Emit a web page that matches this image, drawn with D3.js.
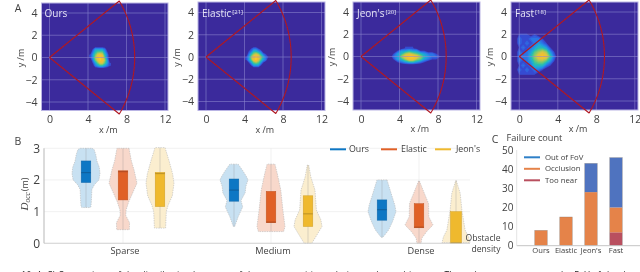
<!DOCTYPE html>
<html><head><meta charset="utf-8">
<script src="https://cdn.jsdelivr.net/npm/d3@7/dist/d3.min.js"></script>
<style>
html,body{margin:0;padding:0;background:#fff;overflow:hidden}
text{font-family:"Open Sans","Noto Sans",sans-serif;fill:#404040}
</style></head><body><svg id="c" width="640" height="272"></svg>
<script>
// ---------- data ----------
const heatNames = ["Ours","Elastic","Jeon's","Fast"];
const heatRefs = ["", "[21]", "[20]", "[18]"];
const heatOurs = [[0,0,0,0,0,0,0,0,0],[0,1,3,3,3,3,2,0,0],[0,2,4,5,5,5,3,1,0],[1,3,5,7,8,7,4,2,0],[1,3,6,8,9,8,5,2,0],[0,2,5,7,9,8,6,3,0],[0,1,3,5,7,7,5,3,1],[0,0,2,3,4,4,3,2,1],[0,0,0,0,0,0,0,0,0]];
const heatElastic = [[0,0,0,0,0,0,0,0,0,0],[0,0,1,2,2,1,0,0,0,0],[0,1,2,4,4,3,2,0,0,0],[0,2,4,6,7,6,4,2,1,0],[1,3,6,8,9,8,6,4,2,1],[1,3,5,8,9,7,5,3,2,0],[0,1,3,5,6,5,3,1,0,0],[0,0,1,3,3,3,1,0,0,0],[0,0,0,0,0,0,0,0,0,0]];
const heatJeon = [[0,0,0,0,1,1,1,0,0,0,0,0,0,0],[0,0,1,3,3,4,3,3,1,1,0,0,0,0],[0,1,3,4,6,7,6,5,4,3,2,2,1,0],[0,2,3,6,8,9,9,8,6,4,3,2,2,1],[0,1,3,4,6,8,8,6,5,3,2,1,1,0],[0,0,1,2,3,4,4,3,2,1,0,0,0,0],[0,0,0,0,0,0,0,0,0,0,0,0,0,0]];
const heatFast = [[0,0,0,0,0,0,0,0,0,0,0,0],[0,1,1,1,0,1,0,0,0,0,0,0],[0,2,1,1,2,2,2,1,0,0,0,0],[0,2,1,2,1,2,3,2,1,0,0,0],[0,1,2,1,2,3,4,4,3,1,0,0],[0,2,1,2,3,5,6,7,6,3,1,0],[0,2,2,2,4,6,8,9,8,5,2,0],[0,2,1,2,3,5,6,6,5,3,1,0],[0,1,2,1,2,4,4,4,2,1,0,0],[0,2,1,2,1,2,2,1,0,0,0,0],[0,1,1,1,1,1,0,0,0,0,0,0],[0,0,0,0,0,0,0,0,0,0,0,0]];
const heatGrids = [heatOurs,heatElastic,heatJeon,heatFast];
const heatOrigin = [[4.25,1,.25,.25],[4.2,1,.25,.25],[3,.75,.4,.25],[-.4,2.4,.4,.4]];
const heatColors = ["#3b2b9c","#3450d8","#2a7fe8","#1ea6dc","#28bfb0","#6cc878","#b4c954","#e6c23e","#f6bf2c","#f9d42a"];
const xTicks=[0,4,8,12], yTicks=[-4,-2,0,2,4];
const fovRange=8.85, fovHalfDeg=35;

const groups=["Sparse","Medium","Dense"];
const methods=["Ours","Elastic","Jeon's"];
const methodColors=["#1177c4","#e06028","#efb92e"];
const violinFill=["#c8e1f2","#f8d8cb","#fbeecf"];
const vSparseOurs=[[3,.42],[2.96,.58],[2.8,.7],[2.6,.78],[2.4,.95],[2.2,1],[2,.92],[1.85,.6],[1.7,.42],[1.5,.4],[1.3,.38],[1.15,.35],[1.13,.28]];
const vSparseElastic=[[3,.43],[2.6,.6],[2.3,.8],[1.9,1],[1.5,.6],[1.3,.4],[1.05,.22],[.88,.2],[.65,.47],[.43,.45]];
const vSparseJeon=[[3.02,.36],[2.6,.65],[2.2,.9],[1.9,1],[1.5,.88],[1.2,.58],[1,.45],[.7,.42],[.48,.4]];
const vMediumOurs=[[2.5,.3],[2.3,.62],[2.1,.9],[2,1],[1.8,.85],[1.6,.8],[1.35,.5],[1.15,.62],[.84,.3],[.53,.05]];
const vMediumElastic=[[2.5,.28],[2.2,.45],[1.68,.7],[1.05,.85],[.53,1],[.37,.9]];
const vMediumJeon=[[2.47,.05],[2.1,.2],[1.68,.5],[1.05,.6],[.74,.92],[.53,1],[.2,.55],[0,.27]];
const vDenseOurs=[[2,.36],[1.68,.58],[1.2,.92],[1,1],[.68,.75],[.42,.47],[.19,.07]];
const vDenseElastic=[[1.97,.03],[1.58,.38],[1.26,.68],[.84,.7],[.58,1],[.37,.55],[.16,.2],[0,.15]];
const vDenseJeon=[[1.98,.02],[1.58,.3],[1.05,.42],[.42,.65],[.2,.9],[.02,1]];
const violins=[[vSparseOurs,vSparseElastic,vSparseJeon],[vMediumOurs,vMediumElastic,vMediumJeon],[vDenseOurs,vDenseElastic,vDenseJeon]];
const boxes=[[[1.92,2.23,2.6],[1.37,2.26,2.29],[1.16,2.2,2.24]],[[1.33,1.68,2.03],[.65,.67,1.64],[.53,.93,1.5]],[[.73,1.06,1.37],[.49,.51,1.25],[0,.02,1]]];
const occTicks=[0,1,2,3];

const failMethods=["Ours","Elastic","Jeon's","Fast"];
const failTypes=["Too near","Occlusion","Out of FoV"];
const failColors=["#b9505e","#e5834a","#4f73bf"];
const tooNear=[0,0,0,7], occlusion=[8,15,28,13], outOfFov=[0,0,15,26];
const failLegend=["Out of FoV","Occlusion","Too near"];
const failLegendColors=["#2f80c8","#e5834a","#b9505e"];
const failTicks=[0,10,20,30,40,50];
const caption="Figure 10. A–C) Comparison of the distribution heatmap of the target position relative to the multicopter. The red sector represents the FoV of the drone.";

// ---------- drawing ----------
const svg=d3.select("#c");
const defs=svg.append("defs");
defs.append("filter").attr("id","soft").append("feGaussianBlur").attr("stdDeviation",.6);
defs.append("filter").attr("id","txt").append("feGaussianBlur").attr("stdDeviation",.2);
const root=svg.append("g").attr("filter","url(#txt)");

const panels=[
 {l:41.5,r:168,t:3,b:110.5,x0:49.5,y0:57.5},
 {l:198,r:325,t:2,b:110.5,x0:206,y0:57},
 {l:353,r:480,t:2,b:110,x0:361,y0:56.5},
 {l:511,r:638,t:2,b:110,x0:519.3,y0:56.5}];
const heatScale=d3.scaleLinear().domain(d3.range(heatColors.length)).range(heatColors);
const levels=d3.range(.9,9.1,.45);

panels.forEach((p,i)=>{
  const x=d3.scaleLinear().domain([0,12]).range([p.x0,p.x0+115.5]);
  const y=d3.scaleLinear().domain([0,4]).range([p.y0,p.y0-44.5]);
  const g=root.append("g");
  g.append("rect").attr("x",p.l).attr("y",p.t).attr("width",p.r-p.l).attr("height",p.b-p.t).attr("fill",heatColors[0]);
  const grid=heatGrids[i], [ox,oy,dx,dy]=heatOrigin[i];
  const w=grid[0].length,h=grid.length;
  const cs=d3.contours().size([w,h]).smooth(true).thresholds(levels)(grid.flat());
  const proj=d3.geoTransform({point(a,b){this.stream.point(x(ox+(a-.5)*dx),y(oy-(b-.5)*dy));}});
  const path=d3.geoPath(proj);
  g.append("g").attr("filter","url(#soft)").selectAll("path").data(cs).join("path")
    .attr("d",path).attr("fill",d=>heatScale(d.value));
  g.selectAll(".gx").data(xTicks.filter(t=>x(t)<p.r)).join("line").attr("x1",d=>x(d)).attr("x2",d=>x(d)).attr("y1",p.t).attr("y2",p.b).attr("stroke","#8f88d0").attr("stroke-width",.9).attr("opacity",.6);
  g.selectAll(".gy").data(yTicks).join("line").attr("y1",d=>y(d)).attr("y2",d=>y(d)).attr("x1",p.l).attr("x2",p.r).attr("stroke","#8f88d0").attr("stroke-width",.9).attr("opacity",.6);
  g.append("rect").attr("x",p.l).attr("y",p.t).attr("width",p.r-p.l).attr("height",p.b-p.t).attr("fill","none").attr("stroke","#b9b4e4").attr("stroke-width",1);
  const a=fovHalfDeg*Math.PI/180;
  const arc=d3.range(-a,a+1e-6,a/20).map(t=>[fovRange*Math.cos(t),fovRange*Math.sin(t)]);
  const sector=d3.line().x(d=>x(d[0])).y(d=>y(d[1]));
  g.append("path").attr("d",sector([[0,0],...arc,[0,0]])).attr("fill","none").attr("stroke","#b01822").attr("stroke-width",1.1).attr("stroke-linejoin","round");
  const ax=d3.axisBottom(x).tickValues(xTicks).tickSize(0).tickPadding(0).tickFormat(d3.format("d"));
  const axg=g.append("g").attr("transform",`translate(0,${p.b+5})`).call(ax);
  const ay=d3.axisLeft(y).tickValues(yTicks).tickSize(0).tickPadding(0).tickFormat(d3.format("d"));
  const ayg=g.append("g").attr("transform",`translate(${p.l-4},0)`).call(ay);
  [axg,ayg].forEach(s=>{s.select(".domain").remove();s.selectAll("text").attr("font-size",10.6).attr("fill","#404040");});
  g.append("text").attr("x",x(6)+1).attr("y",p.b+22).attr("text-anchor","middle").attr("font-size",9).text("x /m");
  g.append("text").attr("transform",`translate(${p.l-18},${p.y0+.5}) rotate(-90)`).attr("text-anchor","middle").attr("font-size",9).text("y /m");
  const tt=g.append("text").attr("x",p.l+(i==0?3:4)).attr("y",17).attr("font-size",10).attr("style","fill:#e6e4f6").text(heatNames[i]);
  if(heatRefs[i]) tt.append("tspan").attr("dy",-3).attr("font-size",6).attr("dx",1).attr("style","fill:#e6e4f6").text(heatRefs[i]);
});

[["A",18,12],["B",18,144.5],["C",495,143]].forEach(d=>root.append("text").attr("x",d[1]).attr("y",d[2]).attr("text-anchor","middle").attr("font-size",10.5).text(d[0]));

// --- panel B
const gx=d3.scalePoint().domain(groups).range([123,419]);
const mx=d3.scalePoint().domain(methods).range([-37,37]);
const vy=d3.scaleLinear().domain([0,3]).range([243.3,148.3]);
const dw=d3.scaleLinear().domain([0,1]).range([0,14]);
const B=root.append("g");
B.selectAll(".h").data([1,2,3]).join("line").attr("x1",44).attr("x2",470).attr("y1",d=>vy(d)).attr("y2",d=>vy(d)).attr("stroke","#eeeeee").attr("stroke-width",.8);
B.selectAll(".v").data(groups).join("line").attr("x1",d=>gx(d)).attr("x2",d=>gx(d)).attr("y1",148).attr("y2",243).attr("stroke","#eeeeee").attr("stroke-width",.8);
const area=d3.area().y(d=>vy(d[0])).x0(d=>-dw(d[1])).x1(d=>dw(d[1])).curve(d3.curveLinear);
groups.forEach((g,gi)=>methods.forEach((m,mi)=>{
  const cx=gx(g)+mx(m), v=violins[gi][mi], bx=boxes[gi][mi];
  const s=B.append("g").attr("transform",`translate(${cx},0)`);
  s.append("path").attr("d",area(v)).attr("fill",violinFill[mi]).attr("stroke","#b9b9b9").attr("stroke-width",.6).attr("stroke-dasharray","1.4 1").attr("stroke-linejoin","round");
  s.append("line").attr("y1",vy(v[0][0])).attr("y2",vy(v[v.length-1][0])).attr("stroke","#8a8a8a").attr("stroke-opacity",.3).attr("stroke-width",1);
  const bw=gi==2&&mi==2?11:9.6;
  s.append("rect").attr("x",-bw/2).attr("width",bw).attr("y",vy(bx[2])).attr("height",vy(bx[0])-vy(bx[2])).attr("fill",methodColors[mi]).attr("stroke",d3.color(methodColors[mi]).darker(.4)).attr("stroke-width",.5);
  s.append("line").attr("x1",-bw/2).attr("x2",bw/2).attr("y1",vy(bx[1])).attr("y2",vy(bx[1])).attr("stroke",d3.color(methodColors[mi]).darker(.8)).attr("stroke-width",.9);
}));
B.append("line").attr("x1",44).attr("x2",470).attr("y1",vy(0)).attr("y2",vy(0)).attr("stroke","#cfcfcf").attr("stroke-width",1.1);
B.append("line").attr("x1",44).attr("x2",44).attr("y1",vy(3)).attr("y2",vy(0)).attr("stroke","#bdbdbd").attr("stroke-width",1.1);
const ayB=B.append("g").attr("transform","translate(40,0)").call(d3.axisLeft(vy).tickValues(occTicks).tickSize(0).tickPadding(0).tickFormat(d3.format("d")));
ayB.select(".domain").remove();
ayB.selectAll("text").attr("font-size",12).attr("fill","#404040");
const axB=B.append("g").attr("transform","translate(1.5,247)").call(d3.axisBottom(gx).tickValues(groups).tickSize(0).tickPadding(0));
axB.select(".domain").remove();
axB.selectAll("text").attr("font-size",9.2).attr("fill","#333");
const yl=B.append("text").attr("transform","translate(28,194) rotate(-90)").attr("text-anchor","middle").attr("font-size",9);
yl.append("tspan").attr("style","font-family:'Liberation Serif';font-style:italic").attr("font-size",11).text("D");
yl.append("tspan").attr("style","font-family:'Liberation Serif';font-style:italic").attr("font-size",7.5).attr("dy",2).text("occ");
yl.append("tspan").attr("dy",-2).attr("dx",1).attr("font-size",9).text("(m)");
const legX=[330,381,435];
methods.forEach((m,i)=>{
  B.append("line").attr("x1",legX[i]).attr("x2",legX[i]+16).attr("y1",149.3).attr("y2",149.3).attr("stroke",methodColors[i]).attr("stroke-width",2);
  B.append("text").attr("x",legX[i]+(i==0?19:i==1?20:21)).attr("y",152.4).attr("font-size",8.8).text(m);
});
B.append("text").attr("x",500.5).attr("y",241).attr("text-anchor","end").attr("font-size",8.6).text("Obstacle");
B.append("text").attr("x",500.5).attr("y",251.5).attr("text-anchor","end").attr("font-size",8.6).text("density");

// --- panel C
const cx=d3.scaleBand().domain(failMethods).range([528.5,628.5]).paddingInner(.5).paddingOuter(.25);
const cy=d3.scaleLinear().domain([0,50]).range([245.7,150]);
const C=root.append("g");
const rows=failMethods.map((m,i)=>({m,"Too near":tooNear[i],"Occlusion":occlusion[i],"Out of FoV":outOfFov[i]}));
const stack=d3.stack().keys(failTypes)(rows);
stack.forEach((s,i)=>C.append("g").selectAll("rect").data(s).join("rect")
  .attr("x",d=>cx(d.data.m)).attr("width",cx.bandwidth())
  .attr("y",d=>cy(d[1])).attr("height",d=>cy(d[0])-cy(d[1])).attr("fill",failColors[i]));
rows.forEach((r,i)=>{
  const tot=tooNear[i]+occlusion[i]+outOfFov[i];
  C.append("rect").attr("x",cx(r.m)).attr("width",cx.bandwidth()).attr("y",cy(tot)).attr("height",cy(0)-cy(tot)).attr("fill","none").attr("stroke","#77706c").attr("stroke-opacity",.6).attr("stroke-width",.5);
});
C.append("line").attr("x1",516.7).attr("x2",640).attr("y1",cy(0)).attr("y2",cy(0)).attr("stroke","#c4c4c4").attr("stroke-width",1);
C.append("line").attr("x1",516.7).attr("x2",516.7).attr("y1",cy(50)).attr("y2",cy(0)).attr("stroke","#e4e4e4").attr("stroke-width",1);
const ayC=C.append("g").attr("transform","translate(513.5,0)").call(d3.axisLeft(cy).tickValues(failTicks).tickSize(0).tickPadding(0).tickFormat(d3.format("d")));
ayC.select(".domain").remove();
ayC.selectAll("text").attr("font-size",10).attr("fill","#555");
const axC=C.append("g").attr("transform","translate(0,247.5)").call(d3.axisBottom(cx).tickSize(0).tickPadding(0));
axC.select(".domain").remove();
axC.selectAll("text").attr("font-size",7.6).attr("fill","#333");
C.append("text").attr("x",506.5).attr("y",141).attr("font-size",9.2).text("Failure count");
failLegend.forEach((t,i)=>{
  const ly=157.3+i*11.5;
  C.append("line").attr("x1",524).attr("x2",540).attr("y1",ly).attr("y2",ly).attr("stroke",failLegendColors[i]).attr("stroke-width",2);
  C.append("text").attr("x",545).attr("y",ly+2.6).attr("font-size",7.8).text(t);
});
root.append("text").attr("x",-8).attr("y",277.5).attr("font-size",8.6).attr("textLength",656).attr("lengthAdjust","spacing").attr("style","fill:#222").text(caption);
</script></body></html>
